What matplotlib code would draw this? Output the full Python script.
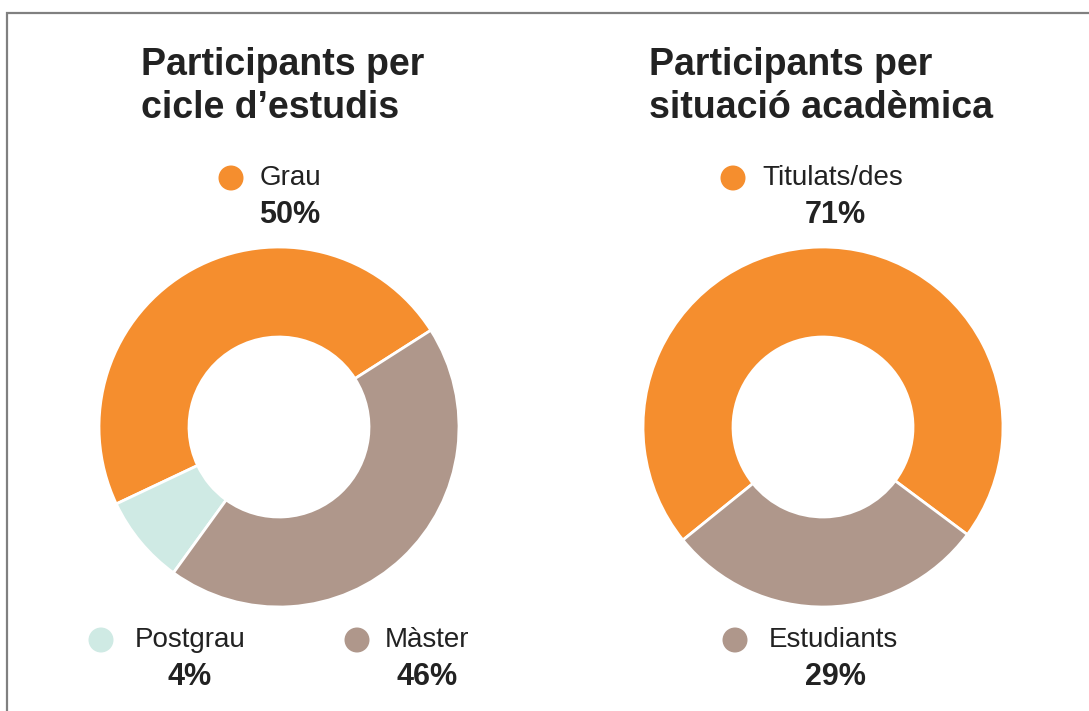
"""Two donut charts: participants by study cycle and by academic situation."""

import matplotlib.pyplot as plt
from matplotlib.patches import Circle

plt.rcParams["font.family"] = ["Liberation Sans", "DejaVu Sans"]

# --- data ---
cicle_labels = ["Grau", "Postgrau", "Màster"]
cicle_pct = ["50%", "4%", "46%"]
cicle_arcs = [48, 8, 44]  # slice sizes as drawn in the original

situacio_labels = ["Titulats/des", "Estudiants"]
situacio_pct = ["71%", "29%"]
situacio_arcs = [71, 29]

ORANGE = "#F58E2E"
TAUPE = "#AF978B"
TEAL = "#CFEAE4"
INK = "#222222"

cicle_colors = [ORANGE, TEAL, TAUPE]
situacio_colors = [ORANGE, TAUPE]

W, H = 1089, 711
fig = plt.figure(figsize=(W / 100, H / 100), dpi=100)
ax = fig.add_axes([0, 0, 1, 1])


def py(y):
    """Pixel row (from top) to data y."""
    return H - y


def donut(values, colors, cx, cy, start):
    ax.pie(values, colors=colors, startangle=start, counterclock=True,
           center=(cx, py(cy)), radius=180, frame=True,
           wedgeprops=dict(width=90, edgecolor="white", linewidth=2))


donut(cicle_arcs, cicle_colors, 279, 427, 32.5)
donut(situacio_arcs, situacio_colors, 823, 427, -36.7)
ax.set_xlim(0, W)
ax.set_ylim(0, H)
ax.set_aspect("equal")
ax.axis("off")

# frame (left and top edges)
ax.plot([7, 7, W], [0, py(13), py(13)], color="#808080", lw=1.6,
        solid_joinstyle="miter")


def title(x, txt):
    ax.text(x, py(47), txt, ha="left", va="top", fontsize=27,
            fontweight="bold", color=INK, linespacing=1.24)


title(141, "Participants per\ncicle d\u2019estudis")
title(649, "Participants per\nsituació acadèmica")


def legend_item(mx, my, color, label, pct, tx, pcx):
    ax.add_patch(Circle((mx, py(my)), 12.5, color=color, lw=0))
    ax.text(tx, py(my), label, ha="left", va="center", fontsize=20,
            color=INK)
    ax.text(pcx, py(my + 37), pct, ha="center", va="center", fontsize=22,
            fontweight="bold", color=INK)


legend_item(231, 178, cicle_colors[0], cicle_labels[0], cicle_pct[0], 260, 290)
legend_item(101, 640, cicle_colors[1], cicle_labels[1], cicle_pct[1], 135, 190)
legend_item(357, 640, cicle_colors[2], cicle_labels[2], cicle_pct[2], 385, 427)
legend_item(733, 178, situacio_colors[0], situacio_labels[0], situacio_pct[0],
            762, 835)
legend_item(735, 640, situacio_colors[1], situacio_labels[1], situacio_pct[1],
            769, 835)

fig.savefig("out.png", dpi=100, facecolor="white")
